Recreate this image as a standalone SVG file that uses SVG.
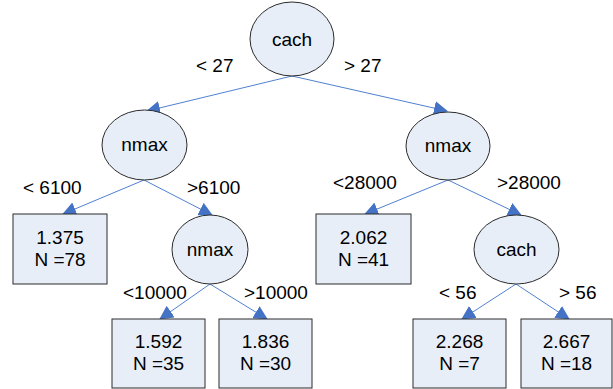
<svg xmlns="http://www.w3.org/2000/svg" width="613" height="389" viewBox="0 0 613 389">
  <style>
    .node { fill: #E8EEF8; stroke: #2b2b2b; stroke-width: 1; }
    .edge { stroke: #4F81D0; stroke-width: 1; fill: none; marker-end: url(#arrow); }
    text { font-family: "Liberation Sans", Arial, sans-serif; font-size: 19px; fill: #000; }
    .c { text-anchor: middle; }
  </style>
  <defs>
    <marker id="arrow" markerUnits="userSpaceOnUse" markerWidth="14" markerHeight="14" viewBox="0 0 14 14" refX="13" refY="7" orient="auto">
      <path d="M0,0 L14,7 L0,14 Z" fill="#4472C4"/>
    </marker>
  </defs>
  <rect width="613" height="389" fill="#fff"/>

  <!-- connectors and split labels -->
  <g id="connectors">
    <line class="edge" x1="292" y1="76" x2="147" y2="111"/>
    <line class="edge" x1="292" y1="76" x2="447" y2="111"/>
    <line class="edge" x1="144" y1="180" x2="63" y2="214"/>
    <line class="edge" x1="144" y1="180" x2="212" y2="215"/>
    <line class="edge" x1="210" y1="284" x2="160" y2="319"/>
    <line class="edge" x1="210" y1="284" x2="267" y2="319"/>
    <line class="edge" x1="448" y1="180" x2="365" y2="214"/>
    <line class="edge" x1="448" y1="180" x2="521" y2="215"/>
    <line class="edge" x1="516" y1="284" x2="462" y2="319"/>
    <line class="edge" x1="516" y1="284" x2="569" y2="319"/>
    <text x="196" y="72">&lt; 27</text>
    <text x="344" y="72">&gt; 27</text>
    <text x="23" y="194">&lt; 6100</text>
    <text x="187" y="194">&gt;6100</text>
    <text x="123" y="299">&lt;10000</text>
    <text x="244" y="299">&gt;10000</text>
    <text x="333" y="189">&lt;28000</text>
    <text x="497" y="189">&gt;28000</text>
    <text x="439" y="299">&lt; 56</text>
    <text x="559" y="299">&gt; 56</text>
  </g>

  <g id="root-cach">
    <ellipse class="node" cx="292" cy="39" rx="42" ry="37"/>
    <text class="c" x="292" y="46">cach</text>
  </g>
  <g id="nmax-left">
    <ellipse class="node" cx="144.5" cy="145" rx="42.5" ry="35"/>
    <text class="c" x="144.5" y="151">nmax</text>
  </g>
  <g id="leaf-1375">
    <rect class="node" x="13" y="214" width="94" height="70"/>
    <text class="c" x="60" y="244">1.375</text>
    <text class="c" x="60" y="266">N =78</text>
  </g>
  <g id="nmax-mid">
    <ellipse class="node" cx="210" cy="249.5" rx="38" ry="34.5"/>
    <text class="c" x="210" y="256">nmax</text>
  </g>
  <g id="leaf-1592">
    <rect class="node" x="112" y="319" width="93" height="69"/>
    <text class="c" x="158.5" y="348">1.592</text>
    <text class="c" x="158.5" y="370">N =35</text>
  </g>
  <g id="leaf-1836">
    <rect class="node" x="219" y="319" width="93" height="69"/>
    <text class="c" x="265.5" y="348">1.836</text>
    <text class="c" x="265.5" y="370">N =30</text>
  </g>
  <g id="nmax-right">
    <ellipse class="node" cx="448" cy="146" rx="42" ry="34"/>
    <text class="c" x="448" y="152">nmax</text>
  </g>
  <g id="leaf-2062">
    <rect class="node" x="316" y="214" width="95" height="70"/>
    <text class="c" x="363.5" y="244">2.062</text>
    <text class="c" x="363.5" y="266">N =41</text>
  </g>
  <g id="cach-right">
    <ellipse class="node" cx="516.5" cy="249.5" rx="42.5" ry="34.5"/>
    <text class="c" x="516.5" y="256">cach</text>
  </g>
  <g id="leaf-2268">
    <rect class="node" x="413" y="319" width="93" height="69"/>
    <text class="c" x="459.5" y="348">2.268</text>
    <text class="c" x="459.5" y="370">N =7</text>
  </g>
  <g id="leaf-2667">
    <rect class="node" x="521" y="319" width="91" height="69"/>
    <text class="c" x="566.5" y="348">2.667</text>
    <text class="c" x="566.5" y="370">N =18</text>
  </g>
</svg>
